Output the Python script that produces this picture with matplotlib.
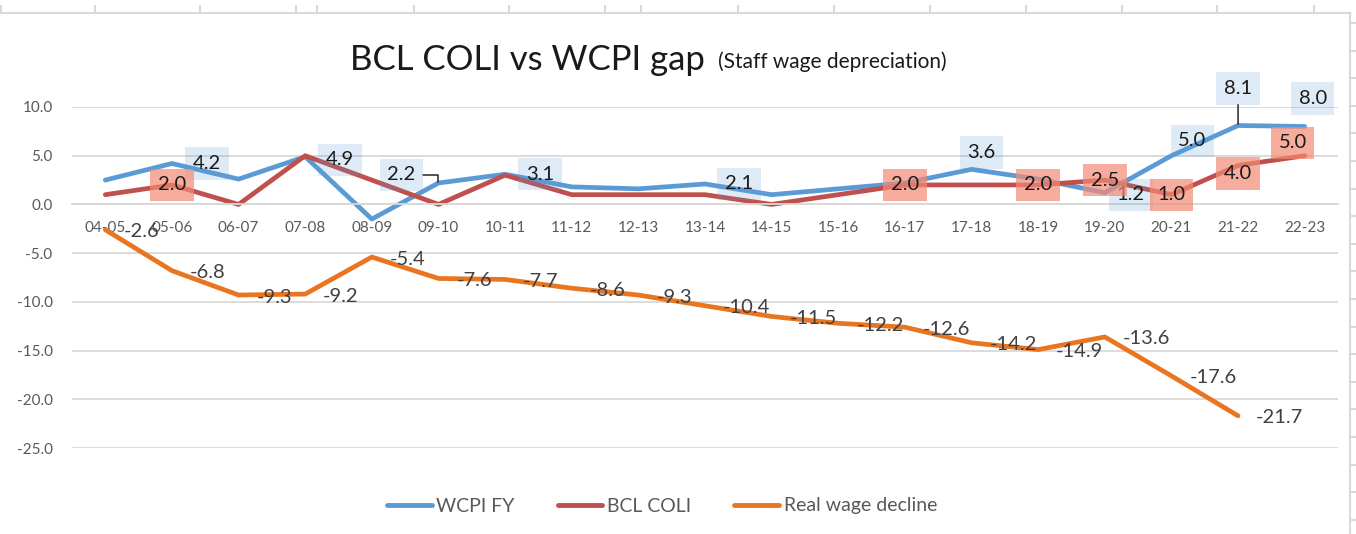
import matplotlib.pyplot as plt
from matplotlib.lines import Line2D

plt.rcParams['font.family'] = ['Lato', 'DejaVu Sans']
plt.rcParams['axes.unicode_minus'] = False

# financial years on the x axis
years = ['04-05', '05-06', '06-07', '07-08', '08-09', '09-10', '10-11', '11-12',
         '12-13', '13-14', '14-15', '15-16', '16-17', '17-18', '18-19', '19-20',
         '20-21', '21-22', '22-23']

wcpi_fy = [2.5, 4.2, 2.6, 4.9, -1.5, 2.2, 3.1, 1.8, 1.6, 2.1, 1.0, 1.6, 2.2,
           3.6, 2.6, 1.2, 5.0, 8.1, 8.0]
bcl_coli = [1.0, 2.0, 0.0, 5.0, 2.5, 0.0, 3.0, 1.0, 1.0, 1.0, 0.0, 1.0, 2.0,
            2.0, 2.0, 2.5, 1.0, 4.0, 5.0]
real_wage = [-2.6, -6.8, -9.3, -9.2, -5.4, -7.6, -7.7, -8.6, -9.3, -10.4,
             -11.5, -12.2, -12.6, -14.2, -14.9, -13.6, -17.6, -21.7, None]

# which points carry a boxed label
wcpi_labelled = [1, 3, 5, 6, 9, 13, 15, 16, 17, 18]
coli_labelled = [1, 12, 14, 15, 16, 17, 18]

y_ticks = [10, 5, 0, -5, -10, -15, -20, -25]

# label placement (pixels from the point)
wcpi_offsets = [(35, 0), (35, -3), (-37, 8), (35, 0), (34, 0), (10, 17),
                (26, -2), (21, 15), (0, 37), (8, 28)]
coli_offsets = [(0, 0), (0, 0), (0, 0), (0, 0), (0, 0), (0, -8), (-12, 13)]
leaders = {5: 'angle,angleA=0,angleB=90', 17: None}

BLUE = '#5B9BD5'
RED = '#C0504D'
ORANGE = '#E97520'
GRID = '#D9D9D9'
TXT = '#595959'

W, H = 1356, 534
fig = plt.figure(figsize=(W / 100, H / 100), dpi=100)
ax = fig.add_axes([72 / W, 1 - 448 / H, (1338 - 72) / W, (448 - 107) / H])

x = list(range(len(years)))
ax.plot(x, wcpi_fy, color=BLUE, lw=3.4, solid_capstyle='round', zorder=2)
ax.plot(x, bcl_coli, color=RED, lw=3.4, solid_capstyle='round', zorder=2)
xr = [i for i, v in zip(x, real_wage) if v is not None]
yr = [v for v in real_wage if v is not None]
ax.plot(xr, yr, color=ORANGE, lw=3.4, solid_capstyle='round', zorder=2)

ax.set_xlim(-0.5, len(years) - 0.5)
ax.set_ylim(-25, 10)
ax.set_yticks(y_ticks)
ax.set_yticklabels([f'{t:.1f}' for t in y_ticks])
ax.set_xticks(x)
ax.set_xticklabels(years)
ax.grid(axis='y', color=GRID, lw=1.3, zorder=0)
ax.set_axisbelow(True)
for s in ['top', 'right', 'left']:
    ax.spines[s].set_visible(False)
ax.spines['bottom'].set_position(('data', 0))
ax.spines['bottom'].set_color(GRID)
ax.spines['bottom'].set_linewidth(1.3)
ax.tick_params(axis='x', length=0, pad=12, labelsize=11, labelcolor=TXT)
ax.tick_params(axis='y', length=0, pad=14, labelsize=11, labelcolor=TXT)

# boxed labels
for k, (i, off) in enumerate(zip(wcpi_labelled, wcpi_offsets)):
    arrow = None
    if i in leaders:
        cs = leaders[i] or 'arc3'
        arrow = dict(arrowstyle='-', color='#262626', lw=1.1, connectionstyle=cs,
                     shrinkA=0, shrinkB=1)
    ax.annotate(f'{wcpi_fy[i]:.1f}', (i, wcpi_fy[i]), xytext=off,
                textcoords='offset pixels', ha='center', va='center',
                fontsize=14.5, color='#1a1a1a', zorder=5, annotation_clip=False,
                arrowprops=arrow,
                bbox=dict(boxstyle='square,pad=0.38', fc=BLUE, ec='none', alpha=0.2))

for i, off in zip(coli_labelled, coli_offsets):
    ax.annotate(f'{bcl_coli[i]:.1f}', (i, bcl_coli[i]), xytext=off,
                textcoords='offset pixels', ha='center', va='center',
                fontsize=14.5, color='#1a1a1a', zorder=6, annotation_clip=False,
                bbox=dict(boxstyle='square,pad=0.38', fc='#F48A74', ec='none', alpha=0.7))

for i, v in zip(xr, yr):
    ax.annotate(f'{v:.1f}', (i, v), xytext=(18, -2), textcoords='offset pixels',
                ha='left', va='center', fontsize=14.5, color='#404040', zorder=4,
                annotation_clip=False)

# title in two sizes like the excel one
fig.text(350 / W, 1 - 70 / H, 'BCL COLI vs WCPI gap', fontsize=25,
         color='#1a1a1a', ha='left', va='baseline')
fig.text(718 / W, 1 - 68 / H, '(Staff wage depreciation)', fontsize=15,
         color='#1a1a1a', ha='left', va='baseline')

handles = [Line2D([], [], color=c, lw=3.5, solid_capstyle='round')
           for c in [BLUE, RED, ORANGE]]
fig.legend(handles, ['WCPI FY', 'BCL COLI', 'Real wage decline'], ncol=3,
           loc='center', bbox_to_anchor=(662 / W, 1 - 506 / H), frameon=False,
           fontsize=14, labelcolor=TXT, handlelength=2.3, handletextpad=0.25,
           columnspacing=2.2)

# spreadsheet cell borders peeking in at the top and right
top_ticks = [1, 95, 200, 296, 317, 414, 509, 605, 641, 738, 834, 930, 1026,
             1122, 1217, 1314]
right_ticks = [23 + 27.6 * k for k in range(19)]
fig.add_artist(Line2D([0, 1350 / W], [1 - 12.5 / H] * 2, color=GRID, lw=1.5))
fig.add_artist(Line2D([1350 / W] * 2, [1 - 12.5 / H, 0], color=GRID, lw=1.5))
for t in top_ticks:
    fig.add_artist(Line2D([t / W] * 2, [1 - 12.5 / H, 1 - 6 / H], color=GRID, lw=1.5))
for t in right_ticks:
    fig.add_artist(Line2D([1350 / W, 1], [1 - t / H] * 2, color=GRID, lw=1.5))

fig.savefig('out.png', dpi=100)
